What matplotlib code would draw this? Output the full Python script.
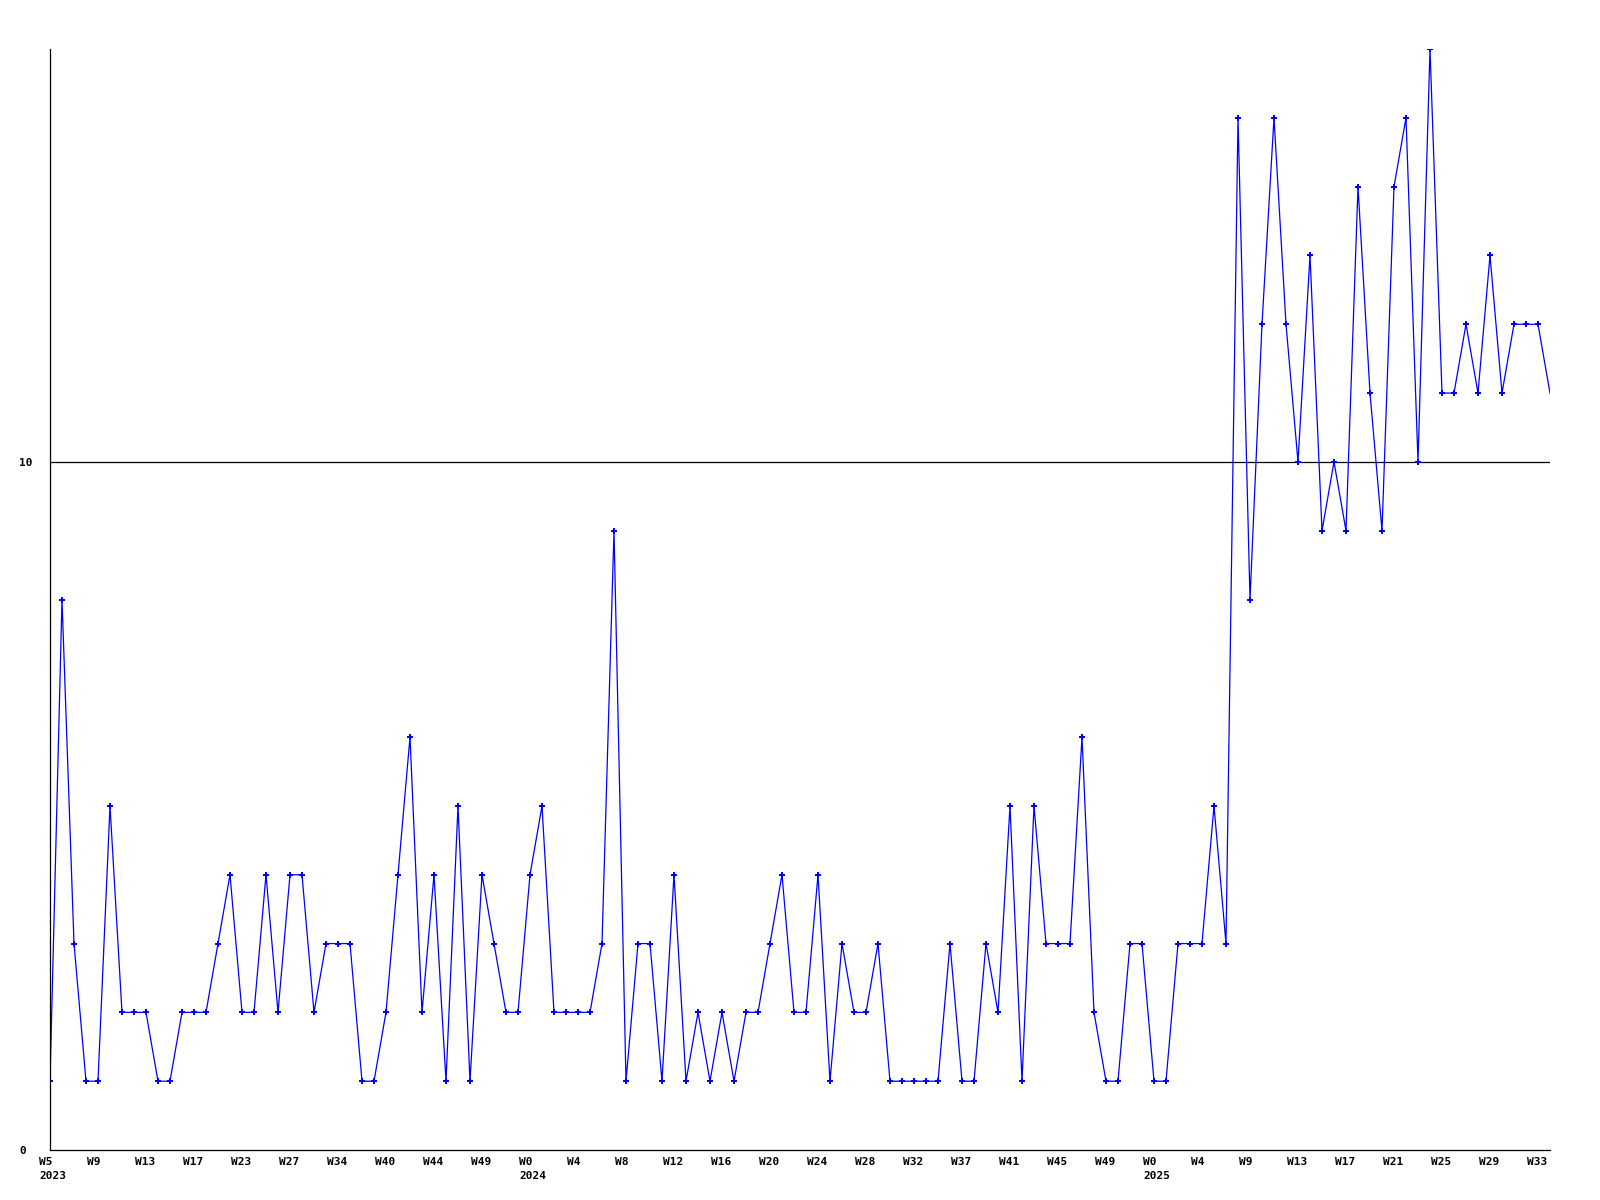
import matplotlib
matplotlib.use('Agg')
import matplotlib.pyplot as plt
from matplotlib.transforms import ScaledTranslation

# weekly counts, one point per listed week
counts = [1, 8, 3, 1, 1, 5, 2, 2, 2, 1,
          1, 2, 2, 2, 3, 4, 2, 2, 4, 2,
          4, 4, 2, 3, 3, 3, 1, 1, 2, 4,
          6, 2, 4, 1, 5, 1, 4, 3, 2, 2,
          4, 5, 2, 2, 2, 2, 3, 9, 1, 3,
          3, 1, 4, 1, 2, 1, 2, 1, 2, 2,
          3, 4, 2, 2, 4, 1, 3, 2, 2, 3,
          1, 1, 1, 1, 1, 3, 1, 1, 3, 2,
          5, 1, 5, 3, 3, 3, 6, 2, 1, 1,
          3, 3, 1, 1, 3, 3, 3, 5, 3, 15,
          8, 12, 15, 12, 10, 13, 9, 10, 9, 14,
          11, 9, 14, 15, 10, 16, 11, 11, 12, 11,
          13, 11, 12, 12, 12, 11]

week_labels = ['W5', 'W9', 'W13', 'W17', 'W23', 'W27', 'W34', 'W40', 'W44', 'W49',
               'W0', 'W4', 'W8', 'W12', 'W16', 'W20', 'W24', 'W28', 'W32', 'W37',
               'W41', 'W45', 'W49',
               'W0', 'W4', 'W9', 'W13', 'W17', 'W21', 'W25', 'W29', 'W33']
year_labels = {0: '2023', 10: '2024', 23: '2025'}
y_ticks = [0, 10]

fig = plt.figure(figsize=(16, 12), dpi=100)
ax = fig.add_axes([50/1600, 1 - 1150/1200, 1500/1600, 1101/1200])

x = list(range(len(counts)))
ax.plot(x, counts, color='#0000ff', linewidth=0.9)
ax.plot(x[:-1], counts[:-1], linestyle='none', marker='P', markersize=4,
        color='#0000ff', markeredgewidth=0)

ax.axhline(10, color='black', linewidth=0.9, zorder=0)

ax.set_xlim(0, len(counts) - 1)
ax.set_ylim(0, 16)

for s in ['top', 'right']:
    ax.spines[s].set_visible(False)
ax.spines['left'].set_linewidth(0.9)
ax.spines['bottom'].set_linewidth(0.9)

ticks = list(range(0, len(counts), 4))
labels = []
for i, w in enumerate(week_labels):
    if i in year_labels:
        labels.append(w + '\n' + year_labels[i])
    else:
        labels.append(w)
ax.set_xticks(ticks)
ax.set_xticklabels(labels, fontsize=8, fontweight='bold', family='DejaVu Sans Mono',
                   linespacing=1.45)
ax.set_yticks(y_ticks)
ax.set_yticklabels([str(v) for v in y_ticks], fontsize=8, fontweight='bold',
                   family='DejaVu Sans Mono')
ax.tick_params(axis='x', length=0, pad=5)
ax.tick_params(axis='y', length=0, pad=22)

shift = ScaledTranslation(-11/100, 0, fig.dpi_scale_trans)
for lab in ax.get_xticklabels():
    lab.set_horizontalalignment('left')
    lab.set_transform(lab.get_transform() + shift)
for lab in ax.get_yticklabels():
    lab.set_horizontalalignment('left')

fig.savefig('out.png', dpi=100)
